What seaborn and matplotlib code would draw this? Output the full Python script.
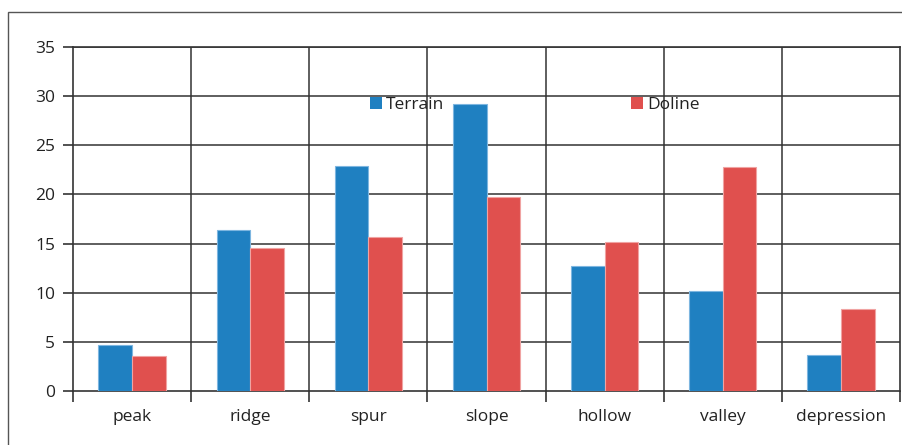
import matplotlib
matplotlib.use("Agg")
import matplotlib.pyplot as plt
from matplotlib.patches import Rectangle, Patch
import seaborn as sns
import pandas as pd
import numpy as np

categories = ["peak", "ridge", "spur", "slope", "hollow", "valley", "depression"]
terrain = [4.7, 16.4, 22.9, 29.2, 12.7, 10.2, 3.7]
doline = [3.6, 14.6, 15.7, 19.7, 15.2, 22.8, 8.3]
series = ["Terrain", "Doline"]
colors = {"Terrain": "#1F80C1", "Doline": "#E0504E"}
edge_colors = {"Terrain": "#7DB6E0", "Doline": "#F0A3A2"}
y_ticks = [0, 5, 10, 15, 20, 25, 30, 35]

df = pd.DataFrame({
    "category": categories * 2,
    "value": terrain + doline,
    "series": ["Terrain"] * len(categories) + ["Doline"] * len(categories),
})

sns.set_theme(style="white")
plt.rcParams["font.family"] = ["Open Sans", "DejaVu Sans"]
line_col = "#333333"
fs = 12.5

fig = plt.figure(figsize=(9.03, 4.45), dpi=100)
ax = fig.add_axes([73 / 903, 1 - 391 / 445, 827 / 903, 344 / 445])

# outer chart frame
fig.patches.append(Rectangle((8 / 903, -0.1), 1.2, 1 - 12 / 445 + 0.1,
                             transform=fig.transFigure, fill=False,
                             edgecolor="#555555", linewidth=1.0, zorder=0))

sns.barplot(data=df, x="category", y="value", hue="series", order=categories,
            hue_order=series, palette=colors, width=0.57, gap=0,
            saturation=1, errorbar=None, legend=False, ax=ax, zorder=3)

# soft light outline on each bar
for cont, name in zip(ax.containers, series):
    for bar in cont:
        bar.set_edgecolor(edge_colors[name])
        bar.set_linewidth(0.8)

ax.set_xlim(-0.5, len(categories) - 0.5)
ax.set_ylim(0, 35)
ax.set_yticks(y_ticks)
ax.set_xlabel("")
ax.set_ylabel("")

# grid: horizontal at every major y tick, vertical at category boundaries
for y in y_ticks[1:]:
    ax.axhline(y, color=line_col, linewidth=1.1, zorder=1)
bounds = np.arange(-0.5, len(categories), 1.0)
for b in bounds[1:-1]:
    ax.axvline(b, color=line_col, linewidth=1.1, zorder=1)
ax.set_xticks(bounds, minor=True)

for side in ["left", "right", "top", "bottom"]:
    ax.spines[side].set_visible(True)
    ax.spines[side].set_color(line_col)
    ax.spines[side].set_linewidth(1.2)
ax.spines["right"].set_zorder(1)

ax.tick_params(axis="y", which="major", direction="out", length=7, width=1.2,
               color=line_col, pad=6, labelsize=fs, labelcolor="#222222", left=True)
ax.tick_params(axis="x", which="major", length=0, pad=13, labelsize=fs,
               labelcolor="#222222")
ax.tick_params(axis="x", which="minor", direction="out", length=8, width=1.2,
               color=line_col, bottom=True)

handles = [Patch(facecolor=colors[s], edgecolor="none") for s in series]
ax.legend(handles, series, loc="center left", bbox_to_anchor=(0.359, 0.832),
          ncol=2, frameon=False, fontsize=fs, handlelength=0.7, handleheight=0.7,
          handletextpad=0.2, columnspacing=10.8, borderaxespad=0, borderpad=0,
          labelcolor="#222222")

fig.savefig("out.png", dpi=100)
